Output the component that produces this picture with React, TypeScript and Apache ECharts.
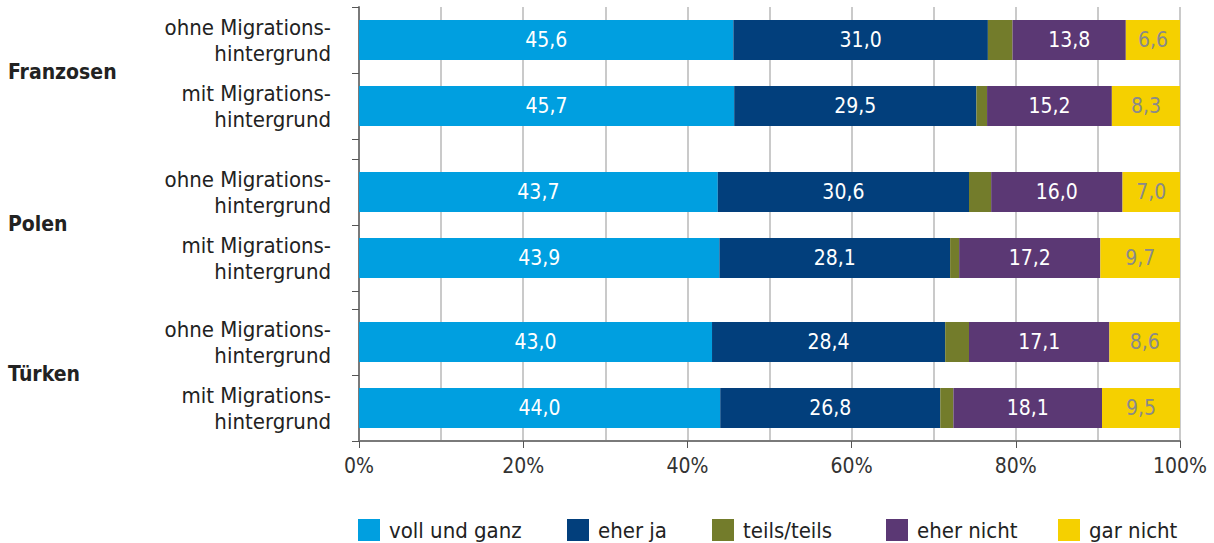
import React, { useEffect, useRef } from "react";
import * as echarts from "echarts";

const groups = ["Franzosen", "Polen", "Türken"];
const subCategories = ["ohne Migrations-\nhintergrund", "mit Migrations-\nhintergrund"];
const seriesNames = ["voll und ganz", "eher ja", "teils/teils", "eher nicht", "gar nicht"];
const colors = ["#009FE0", "#023F7C", "#737C2B", "#5B3874", "#F5D000"];
const tickLabels = ["0%", "20%", "40%", "60%", "80%", "100%"];

// values per group: [ohne, mit]
const vollUndGanz = [[45.6, 45.7], [43.7, 43.9], [43.0, 44.0]];
const eherJa = [[31.0, 29.5], [30.6, 28.1], [28.4, 26.8]];
const teilsTeils = [[3.0, 1.3], [2.7, 1.1], [2.9, 1.6]];
const eherNicht = [[13.8, 15.2], [16.0, 17.2], [17.1, 18.1]];
const garNicht = [[6.6, 8.3], [7.0, 9.7], [8.6, 9.5]];

const allValues = [vollUndGanz, eherJa, teilsTeils, eherNicht, garNicht];

const FONT = "'Liberation Sans Narrow', 'DejaVu Sans Condensed', 'Roboto Condensed', sans-serif";

export default function App() {
  const ref = useRef<HTMLDivElement>(null);
  useEffect(() => {
    if (!ref.current) return;
    const chart = echarts.init(ref.current, null, { renderer: "svg" });
    const gridTops = [7, 159, 309];
    const grids: any[] = gridTops.map((t) => ({ left: 359, width: 821, top: t, height: 132 }));
    grids.push({ left: 359, width: 821, top: 7, height: 434 });

    const xAxes: any[] = gridTops.map((_, i) => ({
      gridIndex: i, type: "value", min: 0, max: 100, show: false,
    }));
    xAxes.push({
      gridIndex: 3, type: "value", min: 0, max: 100, interval: 20,
      axisLine: { show: true, lineStyle: { color: "#7a7a7a", width: 2 } },
      axisTick: { show: true, length: 7, lineStyle: { color: "#555", width: 1 } },
      splitLine: { show: true, lineStyle: { color: "#B8B8B8", width: 1.5 } },
      minorTick: { show: false, splitNumber: 2 },
      minorSplitLine: { show: true, lineStyle: { color: "#B8B8B8", width: 1.5 } },
      axisLabel: {
        margin: 14, color: "#333", fontSize: 21, fontFamily: FONT,
        formatter: (v: number) => tickLabels[Math.round(v / 20)] ?? "",
      },
    });

    const yAxes: any[] = gridTops.map((_, i) => ({
      gridIndex: i, type: "category", inverse: true, data: subCategories,
      axisLine: { show: false },
      axisTick: { show: true, length: 7, lineStyle: { color: "#555", width: 1 } },
      axisLabel: {
        margin: 28, color: "#222", fontSize: 22, lineHeight: 26, fontFamily: FONT, align: "right",
      },
    }));
    yAxes.push({
      gridIndex: 3, type: "value", min: 0, max: 1,
      axisLine: { show: true, lineStyle: { color: "#7a7a7a", width: 2 } },
      axisTick: { show: false }, axisLabel: { show: false }, splitLine: { show: false },
    });

    const series: any[] = [];
    groups.forEach((g, gi) => {
      seriesNames.forEach((name, si) => {
        series.push({
          type: "bar", name, stack: "s" + gi, xAxisIndex: gi, yAxisIndex: gi,
          barWidth: 40, itemStyle: { color: colors[si] },
          label: {
            show: si !== 2, position: "inside",
            color: si === 4 ? "#8A8A8A" : "#fff", fontSize: 21, fontFamily: FONT,
            formatter: (p: any) => p.value.toFixed(1).replace(".", ","),
          },
          data: allValues[si][gi],
        });
      });
    });

    const legendLefts = [353, 562, 707, 881, 1053];
    const legends = seriesNames.map((n, i) => ({
      data: [n], left: legendLefts[i], top: 514, itemWidth: 22, itemHeight: 22,
      icon: "rect", itemGap: 0,
      textStyle: { color: "#222", fontSize: 22, fontFamily: FONT, padding: [0, 0, 0, 4] },
      selectedMode: false,
    }));

    const groupCenters = [73, 225, 375];
    const graphic = groups.map((g, i) => ({
      type: "text", left: 8, top: groupCenters[i] - 12,
      style: { text: g, fill: "#222", font: `bold 21px ${FONT}` },
    }));

    chart.setOption({
      animation: false,
      grid: grids,
      xAxis: xAxes,
      yAxis: yAxes,
      series,
      legend: legends,
      graphic,
    });
    return () => chart.dispose();
  }, []);
  return <div ref={ref} style={{ position: "fixed", left: 0, top: 0, width: 1214, height: 543, background: "#fff" }} />;
}
